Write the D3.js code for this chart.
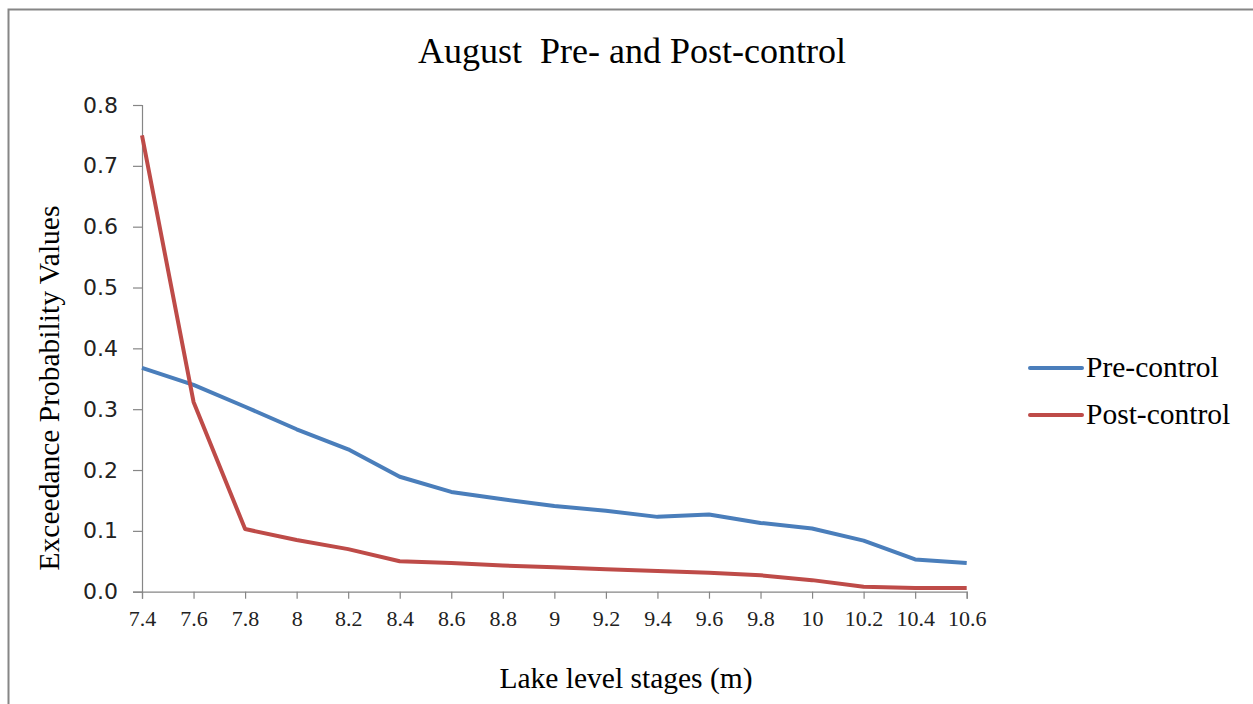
<!DOCTYPE html>
<html>
<head>
<meta charset="utf-8">
<script src="https://cdn.jsdelivr.net/npm/d3@7"></script>
<style>
  body { margin: 0; background: #fff; }
  svg text { white-space: pre; }
</style>
</head>
<body>
<svg id="chart"></svg>
<script>
const width = 1253, height = 704;

// lake level stages (m)
const stages = ["7.4","7.6","7.8","8","8.2","8.4","8.6","8.8","9","9.2","9.4","9.6","9.8","10","10.2","10.4","10.6"];
const preControl  = [0.368,0.340,0.304,0.267,0.234,0.189,0.164,0.152,0.141,0.133,0.123,0.127,0.113,0.104,0.084,0.053,0.047];
const postControl = [0.750,0.312,0.103,0.085,0.070,0.050,0.047,0.043,0.040,0.037,0.034,0.031,0.027,0.019,0.008,0.006,0.006];
const yTicks = [0, 0.1, 0.2, 0.3, 0.4, 0.5, 0.6, 0.7, 0.8];

const seriesList = [
  {name: "Pre-control", values: preControl, color: "#4A7EBB"},
  {name: "Post-control", values: postControl, color: "#BE4B48"}
];

const svg = d3.select("#chart")
  .attr("width", width)
  .attr("height", height);

// outer chart border (right and bottom edges run off the picture)
svg.append("rect")
  .attr("x", 8.5).attr("y", 9.5)
  .attr("width", 1300).attr("height", 800)
  .attr("fill", "#fff")
  .attr("stroke", "#868686")
  .attr("stroke-width", 2);

const plot = {left: 142, right: 966.7, top: 105, bottom: 591.7};

const x = d3.scalePoint()
  .domain(stages)
  .range([plot.left, plot.right]);

const y = d3.scaleLinear()
  .domain([0, 0.8])
  .range([plot.bottom, plot.top]);

// y axis
const yAxis = svg.append("g")
  .attr("transform", `translate(${plot.left},0)`)
  .call(d3.axisLeft(y).tickValues(yTicks).tickFormat(d3.format(".1f")).tickSizeOuter(0).tickSize(9).tickPadding(15));
yAxis.selectAll("text")
  .attr("font-family", "DejaVu Sans, sans-serif")
  .attr("font-size", 22)
  .attr("fill", "#222");

// x axis
const xAxis = svg.append("g")
  .attr("transform", `translate(0,${plot.bottom})`)
  .call(d3.axisBottom(x).tickSizeOuter(0).tickSize(7).tickPadding(12));
xAxis.selectAll("text")
  .attr("font-family", "Liberation Serif, serif")
  .attr("font-size", 22)
  .attr("fill", "#222");

svg.selectAll(".domain, .tick line")
  .attr("stroke", "#868686")
  .attr("stroke-width", 1.2);

// lines
const line = d3.line()
  .x((d, i) => x(stages[i]))
  .y(d => y(d));

svg.selectAll(".series")
  .data(seriesList)
  .enter()
  .append("path")
  .attr("class", "series")
  .attr("d", d => line(d.values))
  .attr("fill", "none")
  .attr("stroke", d => d.color)
  .attr("stroke-width", 4)
  .attr("stroke-linejoin", "round");

// title
svg.append("text")
  .attr("x", 632).attr("y", 63)
  .attr("text-anchor", "middle")
  .attr("font-family", "Liberation Serif, serif")
  .attr("font-size", 36)
  .text("August  Pre- and Post-control");

// axis titles
svg.append("text")
  .attr("transform", "translate(59,388) rotate(-90)")
  .attr("text-anchor", "middle")
  .attr("font-family", "Liberation Serif, serif")
  .attr("font-size", 29.5)
  .text("Exceedance Probability Values");

svg.append("text")
  .attr("x", 626).attr("y", 688)
  .attr("text-anchor", "middle")
  .attr("font-family", "Liberation Serif, serif")
  .attr("font-size", 29.5)
  .text("Lake level stages (m)");

// legend
const legend = svg.selectAll(".legend")
  .data(seriesList)
  .enter()
  .append("g")
  .attr("class", "legend")
  .attr("transform", (d, i) => `translate(1030,${368 + i * 47})`);

legend.append("line")
  .attr("x1", 0).attr("x2", 52)
  .attr("stroke", d => d.color)
  .attr("stroke-width", 4)
  .attr("stroke-linecap", "round");

legend.append("text")
  .attr("x", 56).attr("y", 9)
  .attr("font-family", "Liberation Serif, serif")
  .attr("font-size", 29.5)
  .text(d => d.name);
</script>
</body>
</html>
